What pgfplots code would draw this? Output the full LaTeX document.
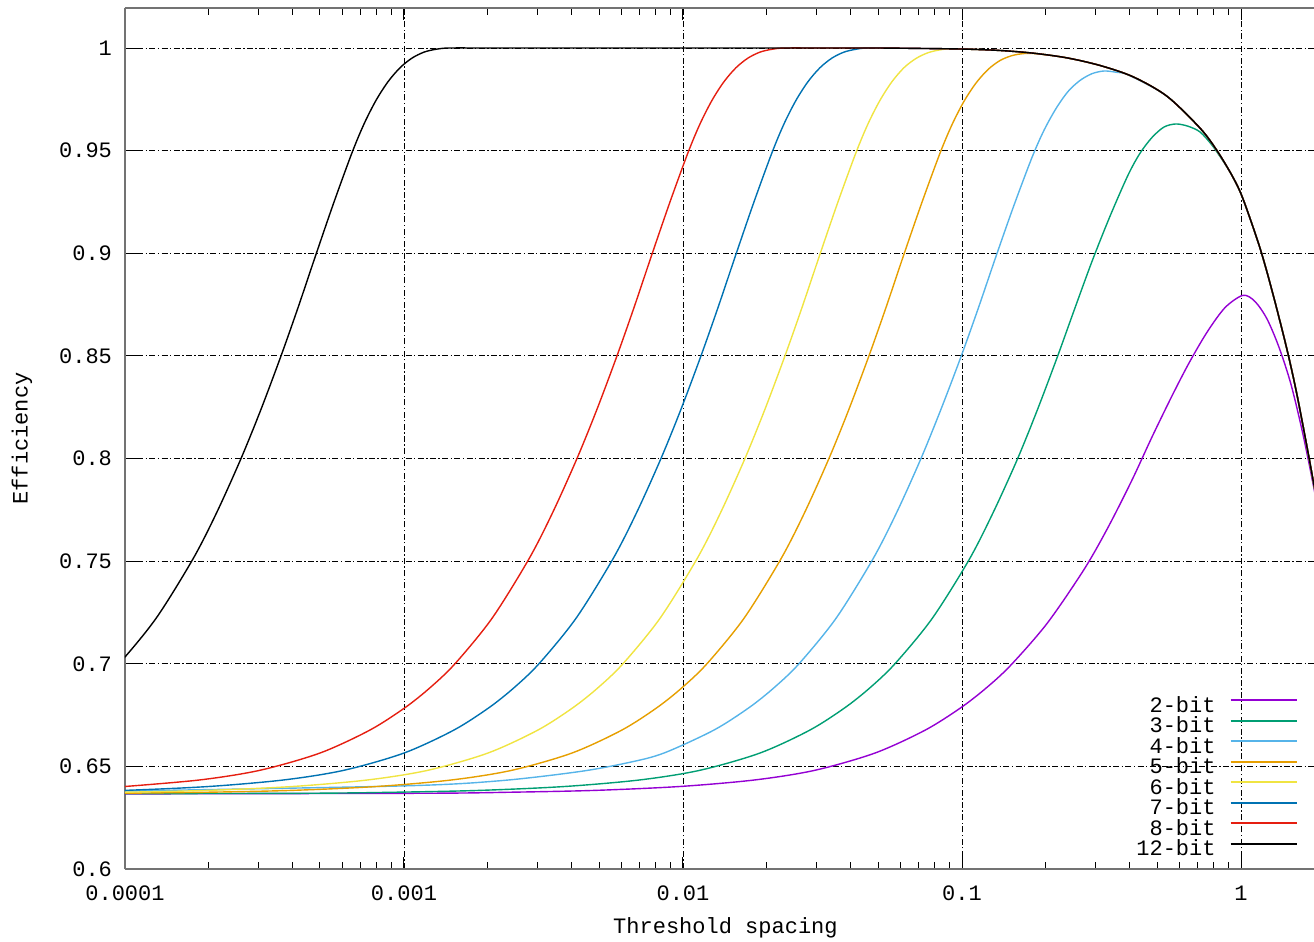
\documentclass[border=0pt]{standalone}
\usepackage{fontspec}
\setmainfont{Liberation Mono}
\usepackage{pgfplots}
\pgfplotsset{compat=1.18}

\definecolor{cTwo}{HTML}{9400D3}
\definecolor{cThree}{HTML}{009E73}
\definecolor{cFour}{HTML}{56B4E9}
\definecolor{cFive}{HTML}{E69F00}
\definecolor{cSix}{HTML}{F0E442}
\definecolor{cSeven}{HTML}{0072B2}
\definecolor{cEight}{HTML}{E51E10}

\begin{document}
\begin{tikzpicture}
\begin{axis}[
  scale only axis,
  width=594.5pt, height=430.5pt,
  xmode=log,
  xmin=1e-4, xmax=1.8268,
  ymin=0.6, ymax=1.0195,
  axis x line*=box, axis y line*=left,
  xtick={1e-4,1e-3,1e-2,1e-1,1},
  xticklabels={0.0001,0.001,0.01,0.1,1},
  minor xtick={2e-4,3e-4,4e-4,5e-4,6e-4,7e-4,8e-4,9e-4,
               2e-3,3e-3,4e-3,5e-3,6e-3,7e-3,8e-3,9e-3,
               0.02,0.03,0.04,0.05,0.06,0.07,0.08,0.09,
               0.2,0.3,0.4,0.5,0.6,0.7,0.8,0.9},
  ytick={0.6,0.65,0.7,0.75,0.8,0.85,0.9,0.95,1},
  yticklabels={0.6,0.65,0.7,0.75,0.8,0.85,0.9,0.95,1},
  tick align=inside,
  major tick length=6pt, minor tick length=3.5pt,
  tick style={black, line width=0.5pt},
  grid=major,
  major grid style={black, line width=0.4pt, dash pattern=on 3pt off 1.2pt on 0.7pt off 1.2pt},
  axis line style={black!55, line width=0.9pt},
  ticklabel style={font=\fontsize{11}{13}\selectfont},
  xticklabel style={anchor=center, yshift=-12pt},
  yticklabel style={xshift=-3pt},
  xlabel={Threshold spacing},
  ylabel={Efficiency},
  label style={font=\fontsize{11}{13}\selectfont},
  x label style={at={(axis description cs:0.505,0)}, anchor=center, yshift=-29.5pt},
  y label style={at={(axis description cs:-0.0866,0.5)}, anchor=center},
  legend plot pos=right,
  legend cell align=right,
  legend style={draw=none, fill=none, at={(axis description cs:1,0)}, anchor=south east,
    xshift=-8pt, yshift=5.5pt, font=\fontsize{11}{13}\selectfont,
    row sep=2.25pt, column sep=7pt, inner sep=0pt,
    nodes={inner sep=0pt, text height=7pt, text depth=1pt}},
  legend image code/.code={\draw[#1, line width=1pt] (0pt,3pt) -- (33pt,3pt);},
  every axis plot/.append style={line width=0.7pt, smooth, tension=0.5},
  no marks
]
% 2-bit
\addplot[cTwo] coordinates {
  (1e-4,0.6366) (1.1892e-3,0.6369) (2.3987e-3,0.6374) (4.8381e-3,0.6383)
  (9.7555e-3,0.6402) (1.81179e-2,0.6434) (2.9726e-2,0.6481) (4.8778e-2,0.6565)
  (7.3674e-2,0.6676) (9.8365e-2,0.6783) (0.12091,0.6877) (0.14862,0.6989)
  (0.20167,0.7196) (0.27369,0.7459) (0.33366,0.7664) (0.40674,0.7895)
  (0.47978,0.8105) (0.56581,0.8305) (0.65101,0.8465) (0.75533,0.8615)
  (0.8763,0.8735) (1.01662,0.8795) (1.12247,0.8765) (1.23934,0.8680)
  (1.3684,0.8542) (1.51083,0.8361) (1.66819,0.8117) (1.84184,0.7828) (2.03353,0.7515)
};
% 3-bit
\addplot[cThree] coordinates {
  (1e-4,0.6367) (4.6026e-4,0.6369) (9.2837e-4,0.6374) (1.8725e-3,0.6383)
  (3.7757e-3,0.6402) (7.0122e-3,0.6434) (1.1505e-2,0.6481) (1.88785e-2,0.6565)
  (2.8514e-2,0.6677) (3.807e-2,0.6786) (4.6796e-2,0.6883) (5.7519e-2,0.7000)
  (7.8051e-2,0.7219) (0.10593,0.7506) (0.12914,0.7735) (0.15742,0.7992)
  (0.18569,0.8232) (0.21899,0.8490) (0.25196,0.8720) (0.29234,0.8960)
  (0.33916,0.9180) (0.39347,0.9380) (0.43443,0.9487) (0.47967,0.9564)
  (0.52961,0.9615) (0.58474,0.9630) (0.64564,0.9619) (0.7129,0.9591)
  (0.78704,0.9527) (0.87623,0.9435) (0.93612,0.9370) (1.01665,0.9265)
  (1.1699,0.9025) (1.3023,0.8800) (1.4622,0.8530) (1.5876,0.8310)
  (1.7388,0.8030) (1.8268,0.7870) (1.9514,0.7660)
};
% 4-bit
\addplot[cFour] coordinates {
  (1e-4,0.638) (1e-3,0.6405) (2.2084e-3,0.643) (4.2737e-3,0.6475)
  (6.4566e-3,0.652) (8.5485e-3,0.6565) (1.2915e-2,0.6677) (1.7242e-2,0.6786)
  (2.119e-2,0.6883) (2.605e-2,0.7000) (3.5349e-2,0.7221) (4.7973e-2,0.7511)
  (5.848e-2,0.7740) (7.129e-2,0.8000) (8.4087e-2,0.8240) (9.9179e-2,0.8496)
  (0.11411,0.8728) (0.1324,0.8985) (0.1536,0.9234) (0.17824,0.9467)
  (0.19677,0.9599) (0.21723,0.9705) (0.23985,0.9788) (0.26483,0.9842)
  (0.2924,0.9875) (0.32285,0.9888) (0.35642,0.9882) (0.39682,0.9867)
  (0.54292,0.9765) (0.7129,0.9610) (0.82035,0.9500) (0.93612,0.9370)
  (1.01665,0.9265) (1.1699,0.9025) (1.3023,0.8800) (1.4622,0.8530)
  (1.5876,0.8310) (1.7388,0.8030) (1.8268,0.7870) (1.9514,0.7660)
};
% 5-bit
\addplot[cFive] coordinates {
  (9.752e-5,0.6369) (1.96704e-4,0.6374) (3.96752e-4,0.6383) (8e-4,0.6402)
  (1.48576e-3,0.6434) (2.43768e-3,0.6481) (4e-3,0.6565) (6.0416e-3,0.6677)
  (8.0664e-3,0.6786) (9.9152e-3,0.6883) (1.21872e-2,0.7000) (1.65376e-2,0.7221)
  (2.2444e-2,0.7511) (2.73616e-2,0.7740) (3.33544e-2,0.8000) (3.9344e-2,0.8240)
  (4.63992e-2,0.8500) (5.33864e-2,0.8735) (6.19408e-2,0.8995) (7.18608e-2,0.9248)
  (8.3368e-2,0.9487) (9.2048e-2,0.9626) (0.101632,0.9740) (0.112216,0.9829)
  (0.123896,0.9895) (0.1368,0.9939) (0.15104,0.9963) (0.16676,0.9973)
  (0.185656,0.9972) (0.23788,0.9952) (0.31234,0.9915) (0.4101,0.9860)
  (0.54292,0.9765) (0.7129,0.9610) (0.82035,0.9500) (0.93612,0.9370)
  (1.01665,0.9265) (1.1699,0.9025) (1.3023,0.8800) (1.4622,0.8530)
  (1.5876,0.8310) (1.7388,0.8030) (1.8268,0.7870) (1.9514,0.7660)
};
% 6-bit
\addplot[cSix] coordinates {
  (4.876e-5,0.6369) (9.8352e-5,0.6374) (1.98376e-4,0.6383) (4e-4,0.6402)
  (7.4288e-4,0.6434) (1.21884e-3,0.6481) (2e-3,0.6565) (3.0208e-3,0.6677)
  (4.0332e-3,0.6786) (4.9576e-3,0.6883) (6.0936e-3,0.7000) (8.2688e-3,0.7221)
  (1.1222e-2,0.7511) (1.36808e-2,0.7740) (1.66772e-2,0.8000) (1.9672e-2,0.8240)
  (2.31996e-2,0.8500) (2.66932e-2,0.8735) (3.09704e-2,0.8995) (3.59304e-2,0.9250)
  (4.1684e-2,0.9490) (4.6024e-2,0.9630) (5.0816e-2,0.9745) (5.6108e-2,0.9836)
  (6.1948e-2,0.9904) (6.84e-2,0.9949) (7.552e-2,0.9977) (8.338e-2,0.9991)
  (9.2828e-2,0.9996) (0.13685,0.9988) (0.17973,0.9975) (0.23788,0.9952)
  (0.31234,0.9915) (0.4101,0.9860) (0.54292,0.9765) (0.7129,0.9610)
  (0.82035,0.9500) (0.93612,0.9370) (1.01665,0.9265) (1.1699,0.9025)
  (1.3023,0.8800) (1.4622,0.8530) (1.5876,0.8310) (1.7388,0.8030)
  (1.8268,0.7870) (1.9514,0.7660)
};
% 7-bit
\addplot[cSeven] coordinates {
  (4.9176e-5,0.6374) (9.9188e-5,0.6383) (2e-4,0.6402) (3.7144e-4,0.6434)
  (6.0942e-4,0.6481) (1e-3,0.6565) (1.5104e-3,0.6677) (2.0166e-3,0.6786)
  (2.4788e-3,0.6883) (3.0468e-3,0.7000) (4.1344e-3,0.7221) (5.611e-3,0.7511)
  (6.8404e-3,0.7740) (8.3386e-3,0.8000) (9.836e-3,0.8240) (1.15998e-2,0.8500)
  (1.33466e-2,0.8735) (1.54852e-2,0.8995) (1.79652e-2,0.9250) (2.0842e-2,0.9490)
  (2.3012e-2,0.9630) (2.5408e-2,0.9745) (2.8054e-2,0.9836) (3.0974e-2,0.9904)
  (3.42e-2,0.9951) (3.776e-2,0.9980) (4.169e-2,0.9994) (4.6414e-2,1.0)
  (0.07,0.9998) (0.1,0.9995) (0.13685,0.9988) (0.17973,0.9975) (0.23788,0.9952)
  (0.31234,0.9915) (0.4101,0.9860) (0.54292,0.9765) (0.7129,0.9610)
  (0.82035,0.9500) (0.93612,0.9370) (1.01665,0.9265) (1.1699,0.9025)
  (1.3023,0.8800) (1.4622,0.8530) (1.5876,0.8310) (1.7388,0.8030)
  (1.8268,0.7870) (1.9514,0.7660)
};
% 8-bit
\addplot[cEight] coordinates {
  (1e-4,0.6402) (1.8572e-4,0.6434) (3.0471e-4,0.6481) (5e-4,0.6565)
  (7.552e-4,0.6677) (1.0083e-3,0.6786) (1.2394e-3,0.6883) (1.5234e-3,0.7000)
  (2.0672e-3,0.7221) (2.8055e-3,0.7511) (3.4202e-3,0.7740) (4.1693e-3,0.8000)
  (4.918e-3,0.8240) (5.7999e-3,0.8500) (6.6733e-3,0.8735) (7.7426e-3,0.8995)
  (8.9826e-3,0.9250) (1.0421e-2,0.9490) (1.1506e-2,0.9630) (1.2704e-2,0.9745)
  (1.4027e-2,0.9836) (1.5487e-2,0.9904) (1.71e-2,0.9951) (1.888e-2,0.9980)
  (2.0845e-2,0.9994) (2.3207e-2,1.0) (0.032,1.0) (0.05,1.0) (0.07,0.9998)
  (0.1,0.9995) (0.13685,0.9988) (0.17973,0.9975) (0.23788,0.9952)
  (0.31234,0.9915) (0.4101,0.9860) (0.54292,0.9765) (0.7129,0.9610)
  (0.82035,0.9500) (0.93612,0.9370) (1.01665,0.9265) (1.1699,0.9025)
  (1.3023,0.8800) (1.4622,0.8530) (1.5876,0.8310) (1.7388,0.8030)
  (1.8268,0.7870) (1.9514,0.7660)
};
% 12-bit
\addplot[black] coordinates {
  (7.74625e-5,0.6883) (9.52125e-5,0.7000) (1.292e-4,0.7221) (1.75344e-4,0.7511)
  (2.13763e-4,0.7740) (2.60581e-4,0.8000) (3.07375e-4,0.8240) (3.62494e-4,0.8500)
  (4.17081e-4,0.8735) (4.83913e-4,0.8995) (5.61413e-4,0.9250) (6.51313e-4,0.9490)
  (7.19125e-4,0.9630) (7.94e-4,0.9745) (8.76688e-4,0.9836) (9.67938e-4,0.9904)
  (1.06875e-3,0.9951) (1.18e-3,0.9980) (1.30281e-3,0.9994) (1.45044e-3,1.0)
  (2e-3,1.0) (2.8e-3,1.0) (4e-3,1.0) (5.6e-3,1.0) (8e-3,1.0) (0.0112,1.0)
  (0.016,1.0) (0.0225,1.0) (0.032,1.0) (0.05,1.0) (0.07,0.9998) (0.1,0.9995)
  (0.13685,0.9988) (0.17973,0.9975) (0.23788,0.9952) (0.31234,0.9915)
  (0.4101,0.9860) (0.54292,0.9765) (0.7129,0.9610) (0.82035,0.9500)
  (0.93612,0.9370) (1.01665,0.9265) (1.1699,0.9025) (1.3023,0.8800)
  (1.4622,0.8530) (1.5876,0.8310) (1.7388,0.8030) (1.8268,0.7870) (1.9514,0.7660)
};
\legend{2-bit,3-bit,4-bit,5-bit,6-bit,7-bit,8-bit,12-bit}
\end{axis}
\pgfresetboundingbox
\path[use as bounding box] ([xshift=-62.5pt,yshift=-36.5pt]current axis.south west)
  rectangle ([yshift=4pt]current axis.north east);
\end{tikzpicture}
\end{document}
